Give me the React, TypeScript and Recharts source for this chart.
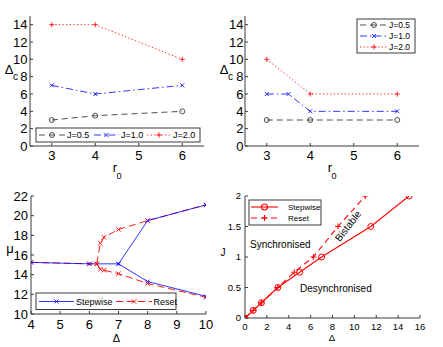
import React from 'react';
import { LineChart, Line, XAxis, YAxis } from 'recharts';

const W = 443;
const H = 347;
const FONT = '"Liberation Sans", Arial, Helvetica, sans-serif';
const AX = '#3a3a3a';
const BLUE = '#0000ff';
const RED = '#ff0000';
const BLACK = '#222222';

// ---- Panel A (top-left): Delta_c vs r0 ----
const aR0 = [3, 4, 6];
const aJ05 = [3, 3.5, 4];
const aJ10 = [7, 6, 7];
const aJ20 = [14, 14, 10];

// ---- Panel B (top-right): Delta_c vs r0 ----
const bR0 = [3, 4, 6];
const bR0J10 = [3, 3.5, 4, 6];
const bJ05 = [3, 3, 3];
const bJ10 = [6, 6, 4, 4];
const bJ20 = [10, 6, 6];

// ---- Panel C (bottom-left): mu vs Delta ----
const cStepUpX = [4, 6, 7, 8, 10];
const cStepUpY = [15.25, 15.1, 15.1, 19.5, 21.1];
const cStepLoX = [7, 8, 10];
const cStepLoY = [15.1, 13.3, 11.8];
const cResetUpX = [4, 6, 6.25, 6.38, 6.5, 7, 8, 10];
const cResetUpY = [15.25, 15.1, 15.1, 17.2, 17.8, 18.6, 19.5, 21.1];
const cResetLoX = [6.25, 6.38, 6.5, 7, 8, 10];
const cResetLoY = [15.1, 14.55, 14.45, 14.1, 13.1, 11.7];

// ---- Panel D (bottom-right): J vs Delta ----
const dStepX = [0, 0.75, 1.5, 3, 5, 7, 11.5, 15];
const dStepJ = [0, 0.125, 0.25, 0.5, 0.75, 1, 1.5, 2];
const dResetX = [0, 0.75, 1.5, 3, 4.5, 6.25, 8.5, 11];
const dResetJ = [0, 0.125, 0.25, 0.5, 0.75, 1, 1.5, 2];

// ---- ticks & labels ----
const ticksR0 = [3, 4, 5, 6];
const ticksDc = [0, 2, 4, 6, 8, 10, 12, 14];
const ticksCX = [4, 5, 6, 7, 8, 9, 10];
const ticksCY = [10, 12, 14, 16, 18, 20, 22];
const ticksDX = [0, 2, 4, 6, 8, 10, 12, 14, 16];
const ticksDY = [0, 0.5, 1, 1.5, 2];
const legendJ = ['J=0.5', 'J=1.0', 'J=2.0'];
const legendMethod = ['Stepwise', 'Reset'];
const regionLabels = ['Synchronised', 'Desynchronised', 'Bistable'];

type Pt = { x: number; y: number };
const zip = (xs: number[], ys: number[]): Pt[] => xs.map((x, i) => ({ x, y: ys[i] }));

// marker shapes
const circleM = (color: string, r: number, sw: number) => (p: any) => {
  if (p == null || !isFinite(p.cx) || !isFinite(p.cy)) return <g key={`n${p?.index}`} />;
  return <circle key={`c${p.index}`} cx={p.cx} cy={p.cy} r={r} fill="none" stroke={color} strokeWidth={sw} />;
};
const crossM = (color: string, s: number, sw: number) => (p: any) => {
  if (p == null || !isFinite(p.cx) || !isFinite(p.cy)) return <g key={`n${p?.index}`} />;
  const { cx, cy } = p;
  return (
    <path key={`x${p.index}`} d={`M${cx - s},${cy - s}L${cx + s},${cy + s}M${cx - s},${cy + s}L${cx + s},${cy - s}`}
      stroke={color} strokeWidth={sw} fill="none" />
  );
};
const plusM = (color: string, s: number, sw: number) => (p: any) => {
  if (p == null || !isFinite(p.cx) || !isFinite(p.cy)) return <g key={`n${p?.index}`} />;
  const { cx, cy } = p;
  return (
    <path key={`p${p.index}`} d={`M${cx - s},${cy}L${cx + s},${cy}M${cx},${cy - s}L${cx},${cy + s}`}
      stroke={color} strokeWidth={sw} fill="none" />
  );
};

type FrameOpts = {
  box: [number, number, number, number];
  xd: [number, number];
  yd: [number, number];
  xt: number[];
  yt: number[];
  fs: number;
  lm: number;
  bm: number;
};

function frame(o: FrameOpts, lines: React.ReactNode[]) {
  const [x0, y0, x1, y1] = o.box;
  const YW = 30;
  const XH = 25;
  const tickStyle = { fontSize: o.fs, fill: '#000', fontFamily: FONT };
  return (
    <div style={{ position: 'absolute', left: 0, top: 0, width: W, height: H }}>
      <LineChart width={W} height={H} margin={{ top: y0, left: x0 - YW, right: W - x1, bottom: H - y1 - XH }}>
        <XAxis xAxisId="b" dataKey="x" type="number" domain={o.xd} ticks={o.xt} allowDataOverflow interval={0}
          height={XH} tickSize={-3} tickMargin={o.bm} stroke={AX} axisLine={{ stroke: AX }} tickLine={{ stroke: AX }}
          tick={tickStyle} />
        <XAxis xAxisId="t" orientation="top" type="number" domain={o.xd} ticks={o.xt} allowDataOverflow interval={0}
          height={0} tickSize={-3} tickFormatter={() => ''} axisLine={{ stroke: AX }} tickLine={{ stroke: AX }} />
        <YAxis yAxisId="l" type="number" domain={o.yd} ticks={o.yt} allowDataOverflow interval={0} width={YW}
          tickSize={-3} tickMargin={o.lm} axisLine={{ stroke: AX }} tickLine={{ stroke: AX }} tick={tickStyle} />
        <YAxis yAxisId="r" orientation="right" type="number" domain={o.yd} ticks={o.yt} allowDataOverflow interval={0}
          width={0} tickSize={-3} tickFormatter={() => ''} axisLine={{ stroke: AX }} tickLine={{ stroke: AX }} />
        {lines}
      </LineChart>
    </div>
  );
}

const line = (key: string, data: Pt[], color: string, dash: string | undefined, sw: number, dot: any) => (
  <Line key={key} xAxisId="b" yAxisId="l" data={data} dataKey="y" type="linear" stroke={color}
    strokeWidth={sw} strokeDasharray={dash} dot={dot} activeDot={false} isAnimationActive={false}
    legendType="none" />
);

const DASH_A = '6 4';
const DASHDOT = '7 3 1.5 3';
const DOTTED = '1.2 2.4';

function LegendSample(props: { x1: number; x2: number; y: number; color: string; dash?: string; sw: number; marker: string; ms: number }) {
  const { x1, x2, y, color, dash, sw, marker, ms } = props;
  const cx = (x1 + x2) / 2;
  let m: React.ReactNode = null;
  if (marker === 'o') m = <circle cx={cx} cy={y} r={ms} fill="none" stroke={color} strokeWidth={sw} />;
  if (marker === 'x') m = <path d={`M${cx - ms},${y - ms}L${cx + ms},${y + ms}M${cx - ms},${y + ms}L${cx + ms},${y - ms}`} stroke={color} strokeWidth={sw} />;
  if (marker === '+') m = <path d={`M${cx - ms},${y}L${cx + ms},${y}M${cx},${y - ms}L${cx},${y + ms}`} stroke={color} strokeWidth={sw} />;
  return (
    <g>
      <line x1={x1} x2={x2} y1={y} y2={y} stroke={color} strokeWidth={sw} strokeDasharray={dash} />
      {m}
    </g>
  );
}

export default function App() {
  const panelA = frame(
    { box: [30, 16, 204, 146], xd: [2.5, 6.5], yd: [0, 15], xt: ticksR0, yt: ticksDc, fs: 13, lm: 5.5, bm: 8 },
    [
      line('a05', zip(aR0, aJ05), BLACK, DASH_A, 0.8, circleM(BLACK, 2.5, 0.8)),
      line('a10', zip(aR0, aJ10), BLUE, DASHDOT, 0.8, crossM(BLUE, 2, 0.8)),
      line('a20', zip(aR0, aJ20), RED, DOTTED, 0.9, plusM(RED, 2.6, 0.8)),
    ]
  );
  const panelB = frame(
    { box: [245, 16, 419, 146], xd: [2.5, 6.5], yd: [0, 15], xt: ticksR0, yt: ticksDc, fs: 13, lm: 4.5, bm: 8 },
    [
      line('b05', zip(bR0, bJ05), BLACK, DASH_A, 0.8, circleM(BLACK, 2.5, 0.8)),
      line('b10', zip(bR0J10, bJ10), BLUE, DASHDOT, 0.8, crossM(BLUE, 2, 0.8)),
      line('b20', zip(bR0, bJ20), RED, DOTTED, 0.9, plusM(RED, 2.6, 0.8)),
    ]
  );
  const panelC = frame(
    { box: [31, 196, 206, 314], xd: [4, 10], yd: [10, 22], xt: ticksCX, yt: ticksCY, fs: 13, lm: 6, bm: 8.5 },
    [
      line('cru', zip(cResetUpX, cResetUpY), RED, '7 4', 0.9, crossM(RED, 2.2, 0.9)),
      line('crl', zip(cResetLoX, cResetLoY), RED, '7 4', 0.9, crossM(RED, 2.2, 0.9)),
      line('csu', zip(cStepUpX, cStepUpY), BLUE, undefined, 0.8, crossM(BLUE, 2, 0.8)),
      line('csl', zip(cStepLoX, cStepLoY), BLUE, undefined, 0.8, crossM(BLUE, 2, 0.8)),
    ]
  );
  const panelD = frame(
    { box: [245, 196, 420, 318], xd: [0, 16], yd: [0, 2], xt: ticksDX, yt: ticksDY, fs: 9.5, lm: 7, bm: 8 },
    [
      line('dr', zip(dResetX, dResetJ), RED, '6 4', 1.1, plusM(RED, 3, 1)),
      line('ds', zip(dStepX, dStepJ), RED, undefined, 1.1, circleM(RED, 3, 1)),
    ]
  );

  return (
    <div style={{ position: 'absolute', left: 0, top: 0, width: W, height: H, background: '#fff', overflow: 'hidden' }}>
      {panelA}
      {panelB}
      {panelC}
      {panelD}
      <svg width={W} height={H} style={{ position: 'absolute', left: 0, top: 0, pointerEvents: 'none' }} fontFamily={FONT}>
        {/* axis labels panel A */}
        <text x={9} y={73.5} fontSize={13} textAnchor="middle">Δ</text>
        <text x={15.5} y={79.5} fontSize={10} textAnchor="middle">c</text>
        <text x={115} y={172} fontSize={13} textAnchor="middle">r</text>
        <text x={119} y={178.5} fontSize={9} textAnchor="middle">0</text>
        {/* axis labels panel B */}
        <text x={224} y={73.5} fontSize={13} textAnchor="middle">Δ</text>
        <text x={230.5} y={79.5} fontSize={10} textAnchor="middle">c</text>
        <text x={330} y={172} fontSize={13} textAnchor="middle">r</text>
        <text x={334} y={178.5} fontSize={9} textAnchor="middle">0</text>
        {/* axis labels panel C */}
        <text x={10} y={253} fontSize={13} textAnchor="middle">μ</text>
        <text x={116.5} y={341.5} fontSize={11} textAnchor="middle">Δ</text>
        {/* axis labels panel D */}
        <text x={223} y={255.5} fontSize={10} textAnchor="middle">J</text>
        <text x={332} y={341} fontSize={9.5} textAnchor="middle">Δ</text>

        {/* legend A */}
        <rect x={36} y={128} width={164} height={14} fill="#fff" stroke={AX} strokeWidth={1} />
        <LegendSample x1={39} x2={65} y={135} color={BLACK} dash={DASH_A} sw={0.8} marker="o" ms={2.5} />
        <text x={67} y={138.2} fontSize={9}>{legendJ[0]}</text>
        <LegendSample x1={94} x2={119} y={135} color={BLUE} dash={DASHDOT} sw={0.8} marker="x" ms={2} />
        <text x={121} y={138.2} fontSize={9}>{legendJ[1]}</text>
        <LegendSample x1={147} x2={171} y={135} color={RED} dash={DOTTED} sw={0.9} marker="+" ms={2.6} />
        <text x={173} y={138.2} fontSize={9}>{legendJ[2]}</text>

        {/* legend B */}
        <rect x={357} y={19} width={58} height={34} fill="#fff" stroke={AX} strokeWidth={1} />
        <LegendSample x1={360} x2={388} y={25} color={BLACK} dash={DASH_A} sw={0.8} marker="o" ms={2.5} />
        <text x={389} y={28.2} fontSize={8.5}>{legendJ[0]}</text>
        <LegendSample x1={360} x2={388} y={36} color={BLUE} dash={DASHDOT} sw={0.8} marker="x" ms={2} />
        <text x={389} y={39.2} fontSize={8.5}>{legendJ[1]}</text>
        <LegendSample x1={360} x2={388} y={47} color={RED} dash={DOTTED} sw={0.9} marker="+" ms={2.6} />
        <text x={389} y={50.2} fontSize={8.5}>{legendJ[2]}</text>

        {/* legend C */}
        <rect x={36} y={293} width={140} height={16.5} fill="#fff" stroke={AX} strokeWidth={1} />
        <LegendSample x1={39} x2={74} y={301.5} color={BLUE} sw={0.8} marker="x" ms={2} />
        <text x={76} y={304.8} fontSize={9}>{legendMethod[0]}</text>
        <LegendSample x1={116} x2={152} y={301.5} color={RED} dash="7 4" sw={0.9} marker="x" ms={2.2} />
        <text x={153.5} y={304.8} fontSize={9}>{legendMethod[1]}</text>

        {/* legend D */}
        <rect x={249} y={200} width={72} height={25} fill="#fff" stroke={AX} strokeWidth={1} />
        <LegendSample x1={251} x2={278} y={207} color={RED} sw={1.1} marker="o" ms={3} />
        <text x={288} y={209.8} fontSize={8}>{legendMethod[0]}</text>
        <LegendSample x1={251} x2={278} y={218} color={RED} dash="6 4" sw={1.1} marker="+" ms={3} />
        <text x={288} y={220.8} fontSize={8}>{legendMethod[1]}</text>

        {/* region annotations panel D */}
        <text x={250} y={248.3} fontSize={10}>{regionLabels[0]}</text>
        <text x={300} y={291.6} fontSize={10}>{regionLabels[1]}</text>
        <text x={0} y={0} fontSize={10} textAnchor="middle" dominantBaseline="central"
          transform="translate(348,226) rotate(-52)">{regionLabels[2]}</text>
      </svg>
    </div>
  );
}
